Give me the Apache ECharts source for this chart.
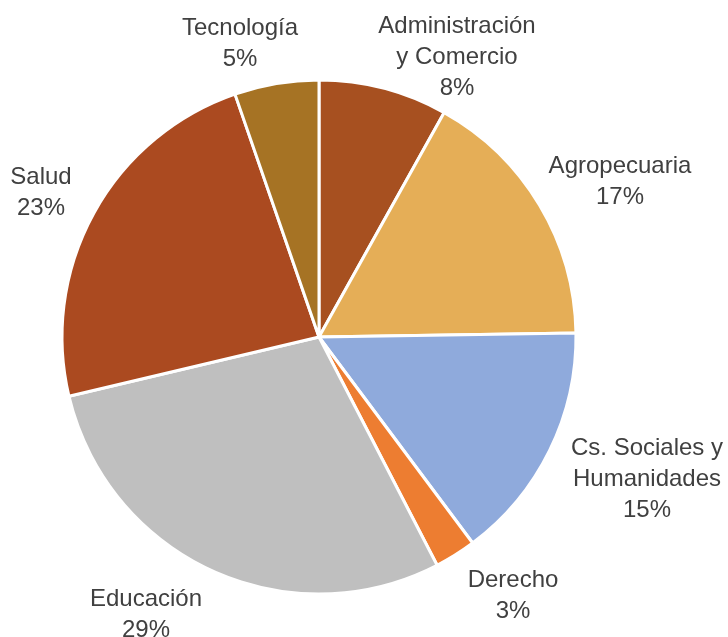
<!DOCTYPE html>
<html>
<head>
<meta charset="utf-8">
<script src="https://cdn.jsdelivr.net/npm/echarts@6/dist/echarts.min.js"></script>
<style>
  html, body { margin: 0; padding: 0; background: #fff; }
  #chart { width: 728px; height: 637px; }
</style>
</head>
<body>
<div id="chart"></div>
<script>
// datos (porcentaje aproximado)
var categorias = ["Administración\ny Comercio", "Agropecuaria", "Cs. Sociales y\nHumanidades", "Derecho", "Educación", "Salud", "Tecnología"];
var valores = [8.1, 16.65, 15.05, 2.6, 28.9, 23.4, 5.3];
var colores = ["#A75020", "#E5AE57", "#8FAADC", "#ED7D31", "#BFBFBF", "#AB4A20", "#A67324"];

var cx = 319, cy = 337, radio = 257;

// centro de cada etiqueta (ajuste "mejor ajuste" de Excel)
var posEtiquetas = [[457, 57], [620, 182], [647, 479], [513, 596], [146, 615], [41, 193], [240, 44]];

var chart = echarts.init(document.getElementById("chart"));
var option = {
  animation: false,
  color: colores,
  series: [
    {
      type: "pie",
      center: [cx, cy],
      radius: radio,
      startAngle: 90,
      clockwise: true,
      itemStyle: { borderColor: "#fff", borderWidth: 3 },
      labelLine: { show: false },
      label: {
        show: true,
        position: "outside",
        overflow: "none",
        fontFamily: "Liberation Sans, Arial, sans-serif",
        fontSize: 24,
        lineHeight: 31,
        color: "#404040",
        align: "center",
        formatter: function (p) {
          return p.name + "\n" + Math.round(p.percent) + "%";
        }
      },
      labelLayout: function (p) {
        var q = posEtiquetas[p.dataIndex];
        return { x: q[0], y: q[1], align: "center", verticalAlign: "middle" };
      },
      data: categorias.map(function (c, i) {
        return { name: c, value: valores[i] };
      })
    }
  ]
};
chart.setOption(option);
</script>
</body>
</html>
